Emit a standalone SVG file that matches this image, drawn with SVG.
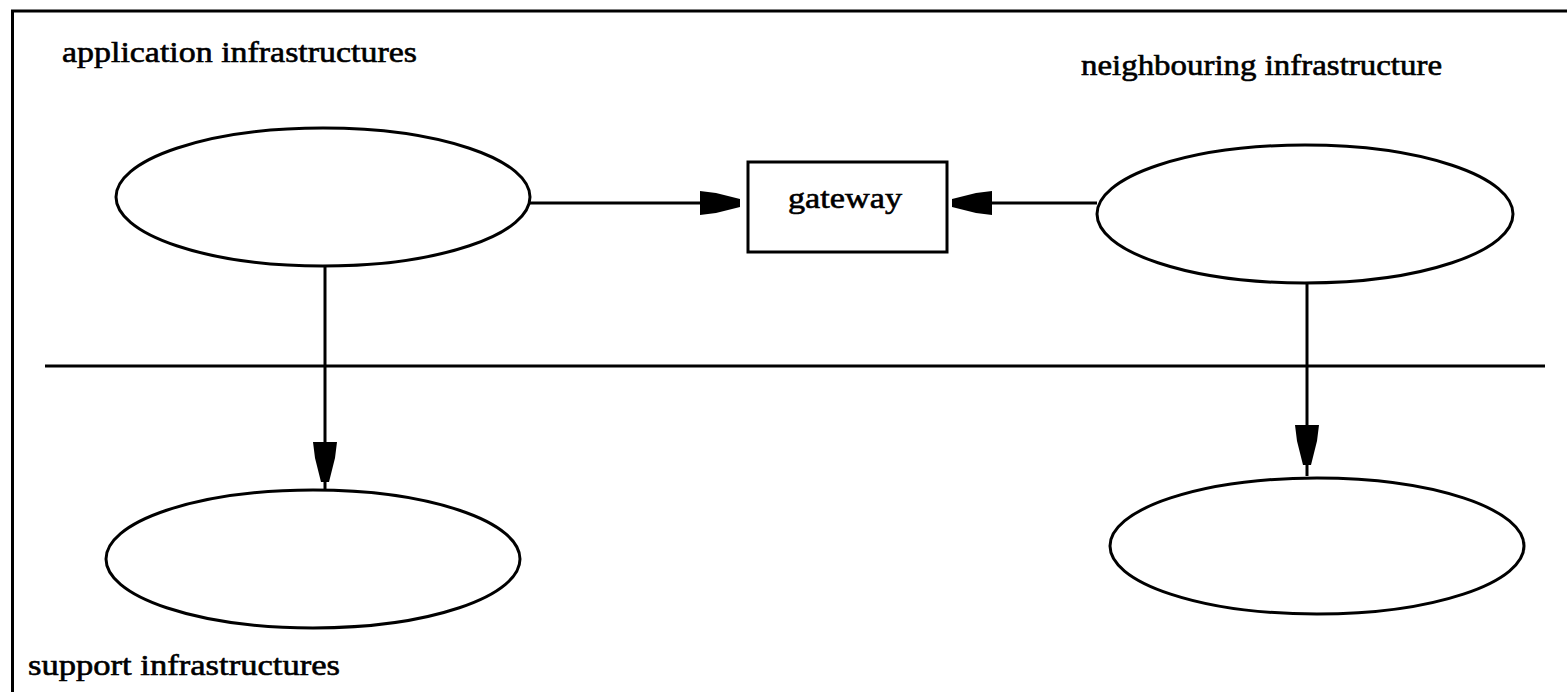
<svg xmlns="http://www.w3.org/2000/svg" width="1567" height="696" viewBox="0 0 1567 696">
  <style>
    .frame { fill: none; stroke: #000; stroke-width: 3; }
    .node { fill: #fff; stroke: #000; stroke-width: 3; }
    .edge { fill: none; stroke: #000; stroke-width: 3; }
    .label { font-family: "Liberation Serif", "Times New Roman", serif; font-size: 30px; fill: #000; stroke: #000; stroke-width: 0.6; }
  </style>
  <defs>
    <!-- blunt filled arrowhead, tip at the origin pointing along +x -->
    <marker id="head" viewBox="-41 -14 42 28" refX="0" refY="0" markerWidth="42" markerHeight="28" markerUnits="userSpaceOnUse" orient="auto">
      <path d="M-40,-12 L-24,-10 L0,-4 L0,4 L-24,10 L-40,12 Z" fill="#000"/>
    </marker>
  </defs>

  <rect width="1567" height="696" fill="#fff"/>

  <!-- outer frame: top and left edges only -->
  <path class="frame" d="M12.5,692 V11 H1567"/>

  <!-- layer divider -->
  <line class="edge" x1="45" y1="366" x2="1545" y2="366"/>

  <!-- layer captions -->
  <text class="label" x="62" y="62" textLength="355" lengthAdjust="spacingAndGlyphs">application infrastructures</text>
  <text class="label" x="1081" y="75" textLength="361" lengthAdjust="spacingAndGlyphs">neighbouring infrastructure</text>
  <text class="label" x="28" y="675" textLength="312" lengthAdjust="spacingAndGlyphs">support infrastructures</text>

  <g id="connectors">
    <path class="edge" d="M530,203 H740" marker-end="url(#head)"/>
    <path class="edge" d="M1097,203 H952" marker-end="url(#head)"/>
    <path class="edge" d="M325,266 V482 V490" marker-mid="url(#head)"/>
    <path class="edge" d="M1307,283 V465 V476" marker-mid="url(#head)"/>
  </g>

  <g id="app-infra">
    <ellipse class="node" cx="323" cy="197" rx="207" ry="69"/>
  </g>
  <g id="neighbour-infra">
    <ellipse class="node" cx="1305" cy="214" rx="208" ry="69"/>
  </g>
  <g id="support-app">
    <ellipse class="node" cx="313" cy="559" rx="207" ry="69"/>
  </g>
  <g id="support-neighbour">
    <ellipse class="node" cx="1317" cy="546" rx="207" ry="68"/>
  </g>
  <g id="gateway">
    <rect class="node" x="748" y="162" width="199" height="90"/>
    <text class="label" x="788" y="208" textLength="114" lengthAdjust="spacingAndGlyphs">gateway</text>
  </g>
</svg>
